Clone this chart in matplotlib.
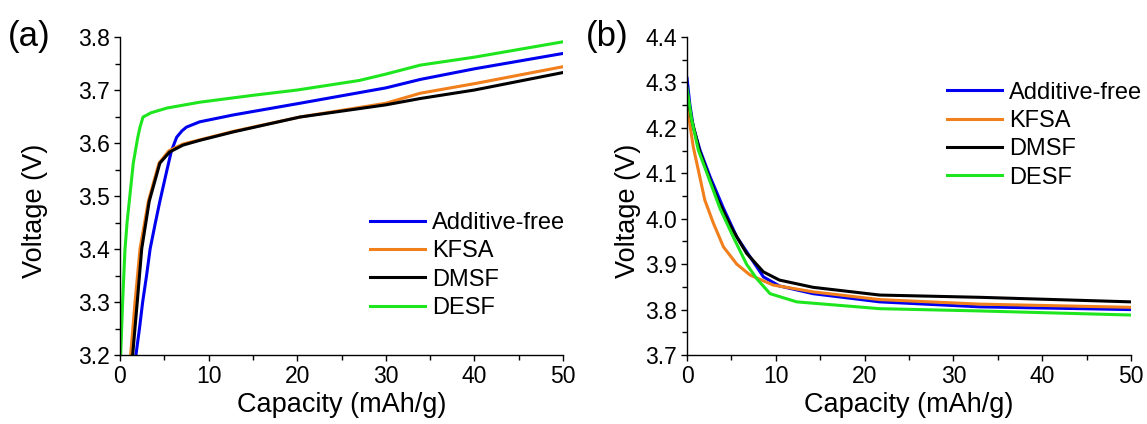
import numpy as np
import matplotlib
matplotlib.use('Agg')
import matplotlib.pyplot as plt
from matplotlib.ticker import MultipleLocator

plt.rcParams['font.family'] = ['Liberation Sans', 'DejaVu Sans']

names = ['Additive-free', 'KFSA', 'DMSF', 'DESF']
colors = ['#0000F0', '#F07F1C', '#000000', '#1EE61E']

# (a) charge curves, capacity (mAh/g) vs voltage (V)
a_free_x = [1.8, 2.2, 2.56, 3.0, 3.4, 4.0, 4.5, 5.3, 5.8, 6.4, 7.0, 7.5, 9.0, 12.8, 20.3, 30, 33.9, 40, 50]
a_free_v = [3.2, 3.25, 3.3, 3.35, 3.4, 3.45, 3.49, 3.549, 3.585, 3.611, 3.623, 3.63, 3.64, 3.653, 3.675, 3.704, 3.72, 3.74, 3.769]
a_kfsa_x = [1.2, 1.7, 2.26, 3.2, 4.4, 5.5, 7.1, 9, 12.8, 20.3, 30, 33.9, 40, 50]
a_kfsa_v = [3.2, 3.3, 3.4, 3.49, 3.562, 3.585, 3.598, 3.606, 3.622, 3.649, 3.675, 3.694, 3.712, 3.744]
a_dmsf_x = [1.43, 1.95, 2.45, 3.3, 4.5, 5.6, 7.1, 9, 12.8, 20.3, 30, 33.9, 40, 50]
a_dmsf_v = [3.2, 3.3, 3.4, 3.49, 3.562, 3.583, 3.596, 3.605, 3.621, 3.649, 3.672, 3.684, 3.70, 3.733]
a_desf_x = [0.08, 0.3, 0.56, 0.8, 1.05, 1.5, 2.0, 2.26, 2.6, 3.5, 5.3, 9, 15, 20, 27, 28, 30, 33.9, 40, 50]
a_desf_v = [3.2, 3.3, 3.398, 3.45, 3.49, 3.562, 3.61, 3.63, 3.649, 3.657, 3.666, 3.677, 3.69, 3.70, 3.718, 3.722, 3.73, 3.747, 3.762, 3.791]

# (b) discharge curves
b_free_x = [0, 0.3, 0.7, 1.46, 2.6, 4.1, 5.6, 7.1, 8.6, 10.4, 14.2, 21.7, 33, 50]
b_free_v = [4.309, 4.254, 4.202, 4.151, 4.092, 4.023, 3.96, 3.916, 3.872, 3.852, 3.835, 3.817, 3.806, 3.80]
b_kfsa_x = [0, 0.3, 0.7, 1.27, 2.0, 2.97, 4.1, 5.6, 7.1, 9.7, 14.2, 21.7, 33, 50]
b_kfsa_v = [4.27, 4.21, 4.158, 4.107, 4.041, 3.99, 3.938, 3.90, 3.876, 3.854, 3.839, 3.822, 3.812, 3.805]
b_dmsf_x = [0, 0.5, 1.4, 2.5, 3.5, 5.0, 6.7, 8.6, 10.4, 14.2, 21.7, 33, 50]
b_dmsf_v = [4.28, 4.22, 4.15, 4.09, 4.04, 3.98, 3.924, 3.883, 3.865, 3.849, 3.832, 3.827, 3.817]
b_desf_x = [0, 0.5, 1.27, 2.4, 3.7, 5.2, 6.7, 7.85, 9.35, 12.35, 21.7, 33, 50]
b_desf_v = [4.287, 4.22, 4.151, 4.092, 4.023, 3.96, 3.90, 3.868, 3.835, 3.817, 3.802, 3.797, 3.788]

fig = plt.figure(figsize=(11.47, 4.24), dpi=100)
ax1 = fig.add_axes([0.1046, 0.1627, 0.3863, 0.75])
ax2 = fig.add_axes([0.599, 0.1627, 0.387, 0.75])

curves_a = [(a_free_x, a_free_v), (a_kfsa_x, a_kfsa_v), (a_dmsf_x, a_dmsf_v), (a_desf_x, a_desf_v)]
curves_b = [(b_free_x, b_free_v), (b_kfsa_x, b_kfsa_v), (b_dmsf_x, b_dmsf_v), (b_desf_x, b_desf_v)]

for (x, v), n, c in zip(curves_a, names, colors):
    ax1.plot(x, v, color=c, lw=2.2, label=n)
for (x, v), n, c in zip(curves_b, names, colors):
    ax2.plot(x, v, color=c, lw=2.2, label=n)

ax1.set_ylim(3.2, 3.8)
ax2.set_ylim(3.7, 4.4)

for ax in (ax1, ax2):
    ax.set_xlim(0, 50)
    ax.xaxis.set_major_locator(MultipleLocator(10))
    ax.xaxis.set_minor_locator(MultipleLocator(5))
    ax.yaxis.set_major_locator(MultipleLocator(0.1))
    ax.yaxis.set_minor_locator(MultipleLocator(0.05))
    ax.spines['top'].set_visible(False)
    ax.spines['right'].set_visible(False)
    for s in ('left', 'bottom'):
        ax.spines[s].set_linewidth(1.0)
    ax.tick_params(which='major', direction='out', length=4, width=1, labelsize=16.5, pad=3)
    ax.tick_params(which='minor', direction='out', length=3.5, width=1)
    ax.set_xlabel('Capacity (mAh/g)', fontsize=19.5, labelpad=3)
    ax.set_ylabel('Voltage (V)', fontsize=19.5)

ax1.yaxis.set_label_coords(-0.163, 0.453)
ax2.yaxis.set_label_coords(-0.104, 0.453)

leg_kw = dict(loc='upper left', frameon=False, fontsize=17, handlelength=2.33,
              handletextpad=0.3, labelspacing=0.27, borderpad=0, borderaxespad=0)
ax1.legend(bbox_to_anchor=(0.564, 0.45), **leg_kw)
ax2.legend(bbox_to_anchor=(0.585, 0.86), **leg_kw)

fig.text(0.007, 0.915, '(a)', fontsize=25, va='center')
fig.text(0.511, 0.915, '(b)', fontsize=25, va='center')

fig.savefig('out.png', dpi=100)
